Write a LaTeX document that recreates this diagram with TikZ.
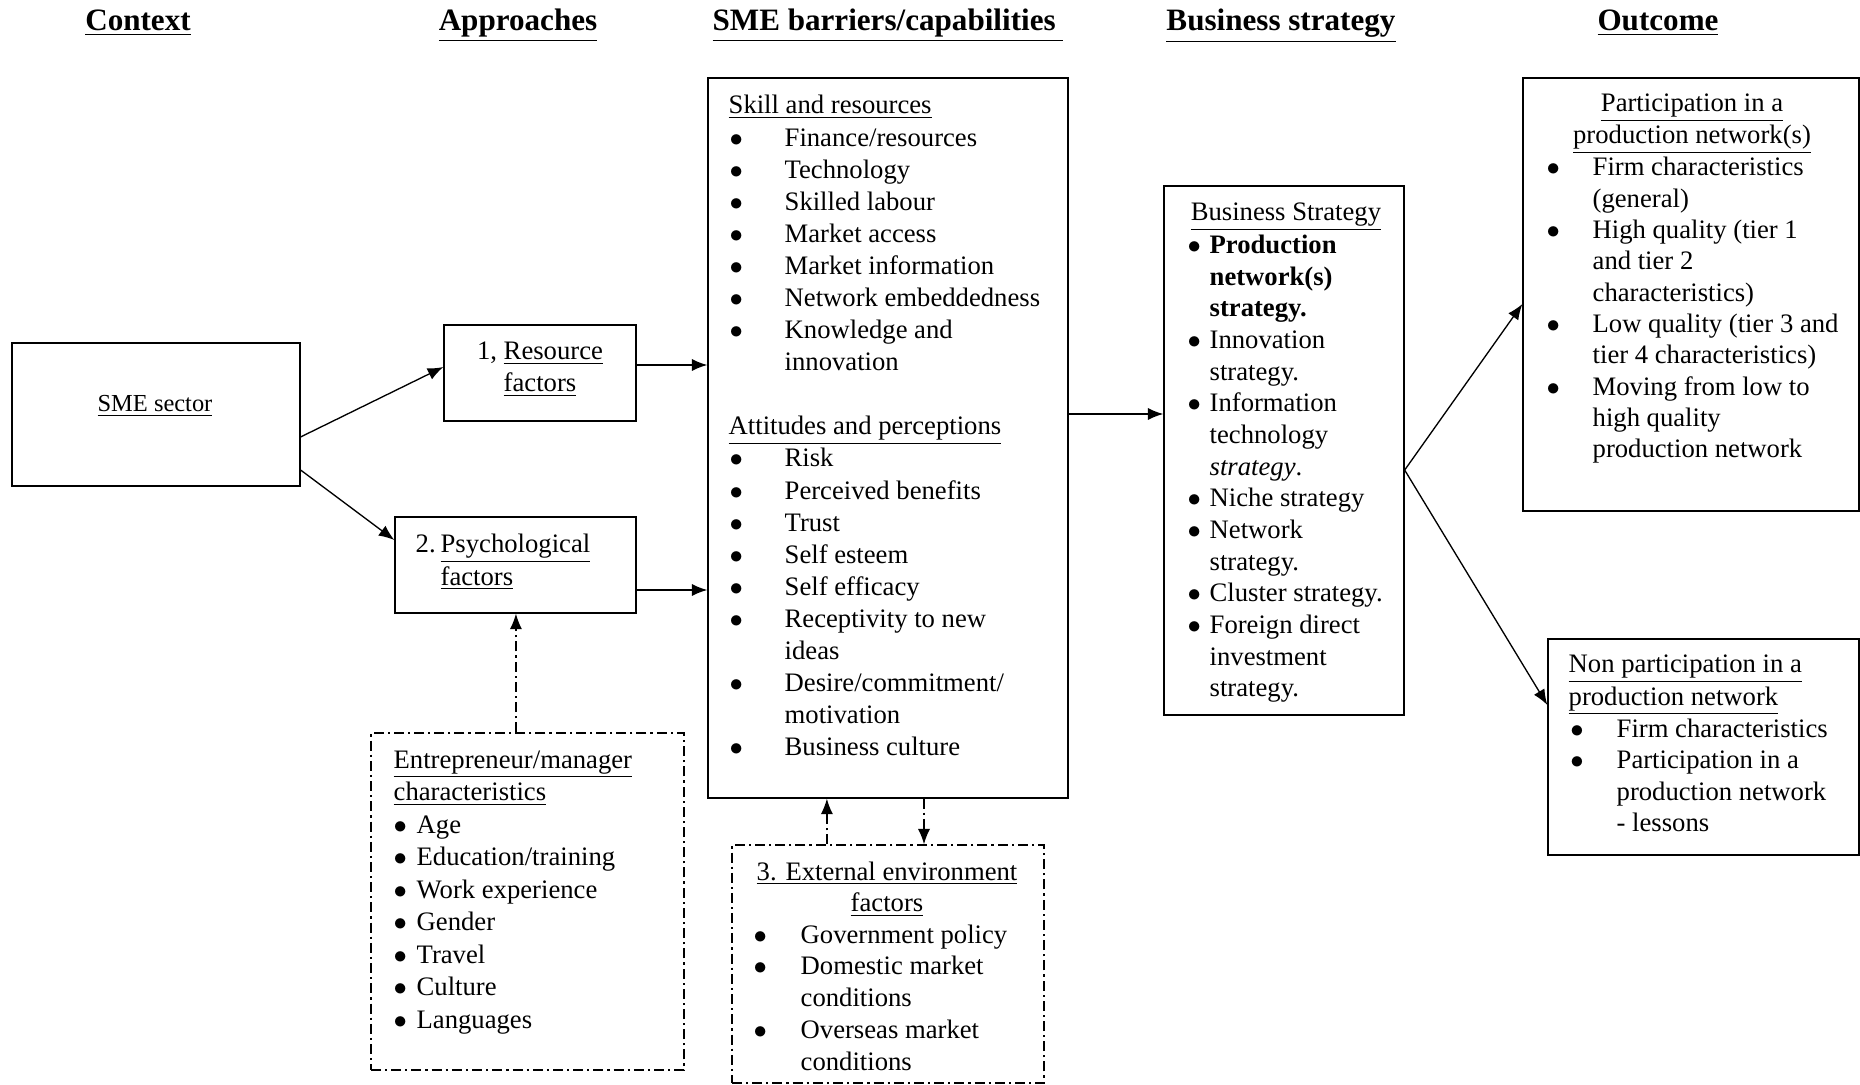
\documentclass[tikz,border=0pt]{standalone}
\usepackage{fontspec}
\setmainfont{Liberation Serif}
\usetikzlibrary{arrows.meta}
\newcommand{\bu}[1]{\hspace*{#1}$\bullet$}

\begin{document}
\begin{tikzpicture}[x=0.45pt, y=-0.45pt, >={Latex[length=7pt,width=5.5pt]}, line width=0.6pt,
    box/.style={draw, inner sep=0pt},
    dashdotline/.style={dash pattern=on 4.5pt off 1.8pt on 1pt off 1.8pt},
    dbox/.style={box, dashdotline},
    txt/.style={inner sep=0pt, anchor=base west, font=\fontsize{12}{14.3}\selectfont},
    hd/.style={inner sep=0pt, anchor=base, font=\fontsize{14}{17}\selectfont\bfseries}]
  \useasboundingbox (0,0) rectangle (1860,1085);

  % column headings
  \node [hd, name=hcontext] at (138,31) {\underline{Context}};
  \node [hd, name=happr] at (518,31) {\underline{Approaches}};
  \node [hd, name=hbarr] at (888,31) {\underline{SME barriers/capabilities\ }};
  \node [hd, name=hstrat] at (1281,31) {\underline{Business strategy}};
  \node [hd, name=hout] at (1658,31) {\underline{Outcome}};

  % boxes
  \node [box, minimum width=129.6pt, minimum height=64.35pt, name=sme] at (156,414.5) {};
  \node [box, minimum width=86.4pt, minimum height=43.2pt, name=res] at (540,373) {};
  \node [box, minimum width=108.45pt, minimum height=43.2pt, name=psy] at (515.5,565) {};
  \node [dbox, minimum width=140.85pt, minimum height=151.65pt, name=ent] at (527.5,901.5) {};
  \node [box, minimum width=162pt, minimum height=324pt, name=bar] at (888,438) {};
  \node [dbox, minimum width=140.4pt, minimum height=107.1pt, name=ext] at (888,964) {};
  \node [box, minimum width=108pt, minimum height=238.05pt, name=bus] at (1284,450.5) {};
  \node [box, minimum width=151.2pt, minimum height=194.85pt, name=part] at (1691,294.5) {};
  \node [box, minimum width=139.95pt, minimum height=97.2pt, name=non] at (1703.5,747) {};

  % texts
  \node [txt, anchor=base, font=\fontsize{11}{13}\selectfont, name=tsme] at (155,412) {\underline{SME sector}};
  \node [txt, anchor=base, name=tres] at (540,360)
    {\begin{tabular}[t]{@{}c@{}}1, \underline{Resource}\\ \underline{factors}\end{tabular}};
  \node [txt, name=tpsy] at (415,553)
    {\begin{tabular}[t]{@{}p{11.25pt}@{}l@{}}2. & \underline{Psychological}\\ & \underline{factors}\end{tabular}};

  \node [txt, font=\fontsize{12}{14.6}\selectfont, name=tent] at (393,768)
    {\begin{tabular}[t]{@{}p{10.35pt}@{}l@{}}
      \multicolumn{2}{@{}l@{}}{\underline{Entrepreneur/manager}}\\
      \multicolumn{2}{@{}l@{}}{\underline{characteristics}}\\
      \bu{0pt} & Age\\
      \bu{0pt} & Education/training\\
      \bu{0pt} & Work experience\\
      \bu{0pt} & Gender\\
      \bu{0pt} & Travel\\
      \bu{0pt} & Culture\\
      \bu{0pt} & Languages
    \end{tabular}};

  \node [txt, font=\fontsize{12}{14.42}\selectfont, name=tbar] at (728,114)
    {\begin{tabular}[t]{@{}p{25.2pt}@{}l@{}}
      \multicolumn{2}{@{}l@{}}{\underline{Skill and resources}}\\
      \bu{0.4pt} & Finance/resources\\
      \bu{0.4pt} & Technology\\
      \bu{0.4pt} & Skilled labour\\
      \bu{0.4pt} & Market access\\
      \bu{0.4pt} & Market information\\
      \bu{0.4pt} & Network embeddedness\\
      \bu{0.4pt} & Knowledge and\\
      & innovation\\
      & \\
      \multicolumn{2}{@{}l@{}}{\underline{Attitudes and perceptions}}\\
      \bu{0.4pt} & Risk\\
      \bu{0.4pt} & Perceived benefits\\
      \bu{0.4pt} & Trust\\
      \bu{0.4pt} & Self esteem\\
      \bu{0.4pt} & Self efficacy\\
      \bu{0.4pt} & Receptivity to new\\
      & ideas\\
      \bu{0.4pt} & Desire/commitment/\\
      & motivation\\
      \bu{0.4pt} & Business culture
    \end{tabular}};

  \node [txt, anchor=base, name=thext] at (887,880)
    {\begin{tabular}[t]{@{}c@{}}\underline{3. External environment}\\ \underline{factors}\end{tabular}};
  \node [txt, name=text] at (753,943)
    {\begin{tabular}[t]{@{}p{21.15pt}@{}l@{}}
      \bu{0pt} & Government policy\\
      \bu{0pt} & Domestic market\\
      & conditions\\
      \bu{0pt} & Overseas market\\
      & conditions
    \end{tabular}};

  \node [txt, font=\fontsize{12}{14.25}\selectfont, name=tbus] at (1187,221)
    {\begin{tabular}[t]{@{}p{9.9pt}@{}l@{}}
      \multicolumn{2}{@{\hspace*{1.4pt}}l@{}}{\underline{Business Strategy}}\\
      \bu{0pt} & \textbf{Production}\\
      & \textbf{network(s)}\\
      & \textbf{strategy.}\\
      \bu{0pt} & Innovation\\
      & strategy.\\
      \bu{0pt} & Information\\
      & technology\\
      & \textit{strategy}.\\
      \bu{0pt} & Niche strategy\\
      \bu{0pt} & Network\\
      & strategy.\\
      \bu{0pt} & Cluster strategy.\\
      \bu{0pt} & Foreign direct\\
      & investment\\
      & strategy.
    \end{tabular}};

  \node [txt, anchor=base, font=\fontsize{12}{14}\selectfont, name=thpart] at (1692,112)
    {\begin{tabular}[t]{@{}c@{}}\underline{Participation in a}\\ \underline{production network(s)}\end{tabular}};
  \node [txt, font=\fontsize{12}{14.1}\selectfont, name=tpart] at (1546,176)
    {\begin{tabular}[t]{@{}p{20.7pt}@{}l@{}}
      \bu{0pt} & Firm characteristics\\
      & (general)\\
      \bu{0pt} & High quality (tier 1\\
      & and tier 2\\
      & characteristics)\\
      \bu{0pt} & Low quality (tier 3 and\\
      & tier 4 characteristics)\\
      \bu{0pt} & Moving from low to\\
      & high quality\\
      & production network
    \end{tabular}};

  \node [txt, font=\fontsize{12}{14.15}\selectfont, name=tnon] at (1568,673)
    {\begin{tabular}[t]{@{}p{21.6pt}@{}l@{}}
      \multicolumn{2}{@{}l@{}}{\underline{Non participation in a}}\\
      \multicolumn{2}{@{}l@{}}{\underline{production network}}\\
      \bu{0.8pt} & Firm characteristics\\
      \bu{0.8pt} & Participation in a\\
      & production network\\
      & - lessons
    \end{tabular}};

  % connectors
  \draw [->] ([yshift=-10.1pt]sme.east) -- ([yshift=2.7pt]res.west);
  \draw [->] ([yshift=-25pt]sme.east) -- ([yshift=11.25pt]psy.west);
  \draw [->] ([yshift=3.6pt]res.east) -- ([yshift=3.6pt]res.east -| bar.west);
  \draw [->] ([yshift=-11.25pt]psy.east) -- ([yshift=-11.25pt]psy.east -| bar.west);
  \draw [->] ([yshift=10.8pt]bar.east) -- ([yshift=10.8pt]bar.east -| bus.west);
  \draw [->] ([yshift=-8.8pt]bus.east) -- ([yshift=-4.3pt]part.west);
  \draw [->] ([yshift=-8.8pt]bus.east) -- ([yshift=18.9pt]non.west);

  \draw [dashdotline, ->] ([xshift=-5.2pt]ent.north) -- ([xshift=-5.2pt]ent.north |- psy.south);
  \draw [dashdotline, ->] ([xshift=-27.5pt]ext.north) -- ([xshift=-27.5pt]ext.north |- bar.south);
  \draw [dashdotline, ->] ([xshift=16.2pt]bar.south) -- ([xshift=16.2pt]bar.south |- ext.north);

\end{tikzpicture}
\end{document}
